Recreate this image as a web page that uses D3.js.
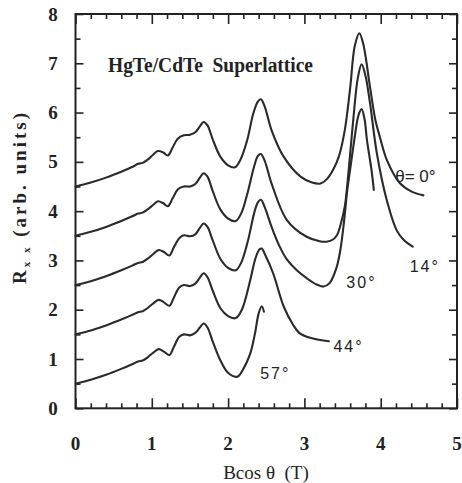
<!DOCTYPE html>
<html><head><meta charset="utf-8">
<script src="https://cdn.jsdelivr.net/npm/d3@7"></script>
<style>body{margin:0;background:#fff}svg{display:block}</style>
</head><body><svg id="c" width="462" height="483"></svg>
<script>
const xTicks = [0,1,2,3,4,5];
const yTicks = [0,1,2,3,4,5,6,7,8];
const chartTitle = "HgTe/CdTe  Superlattice";
const angleLabels = ["θ= 0°","14°","30°","44°","57°"];

const curve0 = [[0,4.5],[0.2,4.58],[0.4,4.68],[0.6,4.8],[0.75,4.9],[0.82,4.96],[0.88,4.98],[0.95,5.05],[1.02,5.15],[1.08,5.22],[1.15,5.19],[1.21,5.13],[1.27,5.28],[1.34,5.47],[1.42,5.54],[1.5,5.55],[1.57,5.6],[1.63,5.72],[1.68,5.81],[1.73,5.74],[1.8,5.45],[1.9,5.1],[2.0,4.93],[2.09,4.89],[2.16,5.04],[2.25,5.44],[2.33,5.98],[2.39,6.22],[2.43,6.27],[2.48,6.12],[2.57,5.64],[2.73,5.10],[2.95,4.70],[3.1,4.58],[3.21,4.56],[3.3,4.66],[3.38,4.85],[3.45,5.1],[3.53,5.65],[3.6,6.5],[3.66,7.35],[3.72,7.61],[3.77,7.4],[3.86,6.52],[3.93,5.85],[3.99,5.5],[4.08,5.04],[4.25,4.57],[4.4,4.4],[4.56,4.32]];
const curve14 = [[0,3.5],[0.2,3.58],[0.4,3.68],[0.6,3.8],[0.75,3.9],[0.82,3.95],[0.88,3.97],[0.95,4.04],[1.02,4.13],[1.08,4.2],[1.15,4.16],[1.21,4.1],[1.27,4.25],[1.34,4.44],[1.42,4.5],[1.5,4.5],[1.57,4.55],[1.63,4.68],[1.68,4.77],[1.73,4.7],[1.8,4.4],[1.9,4.03],[2.0,3.85],[2.1,3.8],[2.17,3.95],[2.26,4.4],[2.34,4.9],[2.39,5.12],[2.43,5.16],[2.48,5.02],[2.57,4.56],[2.77,3.82],[3.03,3.48],[3.2,3.39],[3.29,3.38],[3.38,3.43],[3.43,3.52],[3.47,3.7],[3.53,4.1],[3.58,4.83],[3.64,5.85],[3.7,6.7],[3.75,6.98],[3.8,6.75],[3.86,6.19],[3.95,5.17],[4.08,4.22],[4.21,3.61],[4.3,3.42],[4.42,3.28]];
const curve30 = [[0,2.5],[0.2,2.58],[0.4,2.68],[0.6,2.8],[0.75,2.9],[0.82,2.95],[0.88,2.97],[0.95,3.04],[1.02,3.13],[1.09,3.21],[1.16,3.17],[1.23,3.1],[1.29,3.27],[1.36,3.45],[1.42,3.51],[1.5,3.49],[1.57,3.53],[1.63,3.66],[1.68,3.75],[1.73,3.68],[1.8,3.4],[1.9,3.03],[2.0,2.85],[2.1,2.8],[2.17,2.95],[2.26,3.4],[2.34,3.95],[2.39,4.18],[2.43,4.23],[2.48,4.08],[2.57,3.68],[2.67,3.3],[2.77,3.02],[2.9,2.8],[3.03,2.64],[3.15,2.52],[3.25,2.47],[3.33,2.54],[3.42,2.85],[3.47,3.2],[3.52,3.8],[3.56,4.4],[3.6,4.85],[3.66,5.51],[3.71,5.95],[3.75,6.07],[3.79,5.85],[3.82,5.44],[3.88,4.83],[3.91,4.43]];
const curve44 = [[0,1.5],[0.2,1.58],[0.4,1.68],[0.6,1.8],[0.75,1.9],[0.82,1.95],[0.88,1.97],[0.95,2.04],[1.02,2.13],[1.09,2.2],[1.16,2.15],[1.23,2.08],[1.29,2.25],[1.36,2.45],[1.42,2.5],[1.5,2.48],[1.57,2.53],[1.63,2.65],[1.68,2.74],[1.73,2.66],[1.8,2.38],[1.9,2.03],[2.0,1.87],[2.1,1.83],[2.18,2.0],[2.29,2.6],[2.36,3.05],[2.41,3.22],[2.44,3.24],[2.49,3.1],[2.59,2.74],[2.73,2.06],[2.85,1.7],[2.94,1.52],[3.1,1.42],[3.32,1.36]];
const curve57 = [[0,0.5],[0.2,0.58],[0.4,0.68],[0.6,0.8],[0.75,0.9],[0.82,0.95],[0.88,0.97],[0.95,1.04],[1.02,1.13],[1.09,1.2],[1.16,1.15],[1.23,1.08],[1.29,1.25],[1.36,1.45],[1.42,1.5],[1.5,1.48],[1.57,1.53],[1.63,1.64],[1.68,1.72],[1.73,1.64],[1.8,1.35],[1.9,0.97],[2.0,0.72],[2.12,0.64],[2.2,0.8],[2.29,1.11],[2.35,1.5],[2.4,1.92],[2.44,2.07],[2.47,1.96]];
const series = [curve0, curve14, curve30, curve44, curve57];
const labelPos = [[4.19,4.6],[4.38,2.76],[3.55,2.45],[3.38,1.14],[2.42,0.6]];

const svg = d3.select("#c");
const x = d3.scaleLinear().domain([0,5]).range([75.5,457]);
const y = d3.scaleLinear().domain([0,8]).range([408.3,14]);
const ink = "#222";

svg.append("rect").attr("x",x(0)).attr("y",y(8)).attr("width",x(5)-x(0)).attr("height",y(0)-y(8))
  .attr("fill","none").attr("stroke",ink).attr("stroke-width",2);

const xMinor = d3.range(0,5.001,0.2).filter(v=>Math.abs(v-Math.round(v))>1e-6);
const yMinor = d3.range(0.5,8,1);
function tickAxes(){
  const gs = [
    svg.append("g").attr("transform",`translate(0,${y(0)})`).call(d3.axisBottom(x).tickValues(xTicks).tickSize(-10).tickFormat("")),
    svg.append("g").attr("transform",`translate(0,${y(0)})`).call(d3.axisBottom(x).tickValues(xMinor).tickSize(-5).tickFormat("")),
    svg.append("g").attr("transform",`translate(0,${y(8)})`).call(d3.axisTop(x).tickValues(xTicks).tickSize(-10).tickFormat("")),
    svg.append("g").attr("transform",`translate(0,${y(8)})`).call(d3.axisTop(x).tickValues(xMinor).tickSize(-5).tickFormat("")),
    svg.append("g").attr("transform",`translate(${x(0)},0)`).call(d3.axisLeft(y).tickValues(yTicks).tickSize(-8).tickFormat("")),
    svg.append("g").attr("transform",`translate(${x(0)},0)`).call(d3.axisLeft(y).tickValues(yMinor).tickSize(-5).tickFormat("")),
    svg.append("g").attr("transform",`translate(${x(5)},0)`).call(d3.axisRight(y).tickValues(yTicks).tickSize(-8).tickFormat("")),
    svg.append("g").attr("transform",`translate(${x(5)},0)`).call(d3.axisRight(y).tickValues(yMinor).tickSize(-5).tickFormat(""))
  ];
  gs.forEach(g=>{
    g.select(".domain").remove();
    g.selectAll("line").attr("stroke",ink).attr("stroke-width",1.6);
  });
}
tickAxes();

const serif = "'Liberation Serif','DejaVu Serif',serif";
svg.append("g").selectAll("text").data(xTicks).join("text")
  .attr("x",d=>x(d)).attr("y",450).attr("text-anchor","middle")
  .attr("font-family",serif).attr("font-size",19).attr("font-weight","bold").attr("fill",ink)
  .text(d=>d);
svg.append("g").selectAll("text").data(yTicks).join("text")
  .attr("x",53).attr("y",d=>y(d)+6.5).attr("text-anchor","middle")
  .attr("font-family",serif).attr("font-size",19).attr("font-weight","bold").attr("fill",ink)
  .text(d=>d);

svg.append("text").attr("x",266).attr("y",479).attr("text-anchor","middle")
  .attr("font-family",serif).attr("font-size",19).attr("fill",ink).attr("xml:space","preserve")
  .text("Bcos θ  (T)");

const yt = svg.append("text").attr("transform","translate(26,197) rotate(-90)")
  .attr("text-anchor","middle").attr("font-family",serif).attr("font-size",19)
  .attr("font-weight","bold").attr("fill",ink).attr("letter-spacing",3);
yt.append("tspan").text("R");
yt.append("tspan").attr("font-size",11).attr("dy",4).text("x x");
yt.append("tspan").attr("dy",-4).text(" (arb. units)");

svg.append("text").attr("x",108).attr("y",72).attr("font-family",serif)
  .attr("font-size",20).attr("font-weight","bold").attr("fill",ink)
  .attr("textLength",205).attr("lengthAdjust","spacingAndGlyphs")
  .attr("xml:space","preserve").text(chartTitle);

const line = d3.line().x(d=>x(d[0])).y(d=>y(d[1])).curve(d3.curveCatmullRom.alpha(0.5));
svg.append("g").selectAll("path").data(series).join("path")
  .attr("d",line).attr("fill","none").attr("stroke","#2a2a2a").attr("stroke-width",2.1)
  .attr("stroke-linejoin","round").attr("stroke-linecap","round");

const sans = "'Liberation Sans','DejaVu Sans',sans-serif";
svg.append("g").selectAll("text").data(angleLabels).join("text")
  .attr("x",(d,i)=>x(labelPos[i][0])).attr("y",(d,i)=>y(labelPos[i][1]))
  .attr("font-family",sans).attr("font-size",(d,i)=>i===0?17:16).attr("fill",ink)
  .attr("letter-spacing",(d,i)=>i===0?0:2)
  .attr("xml:space","preserve").text(d=>d);
</script></body></html>
